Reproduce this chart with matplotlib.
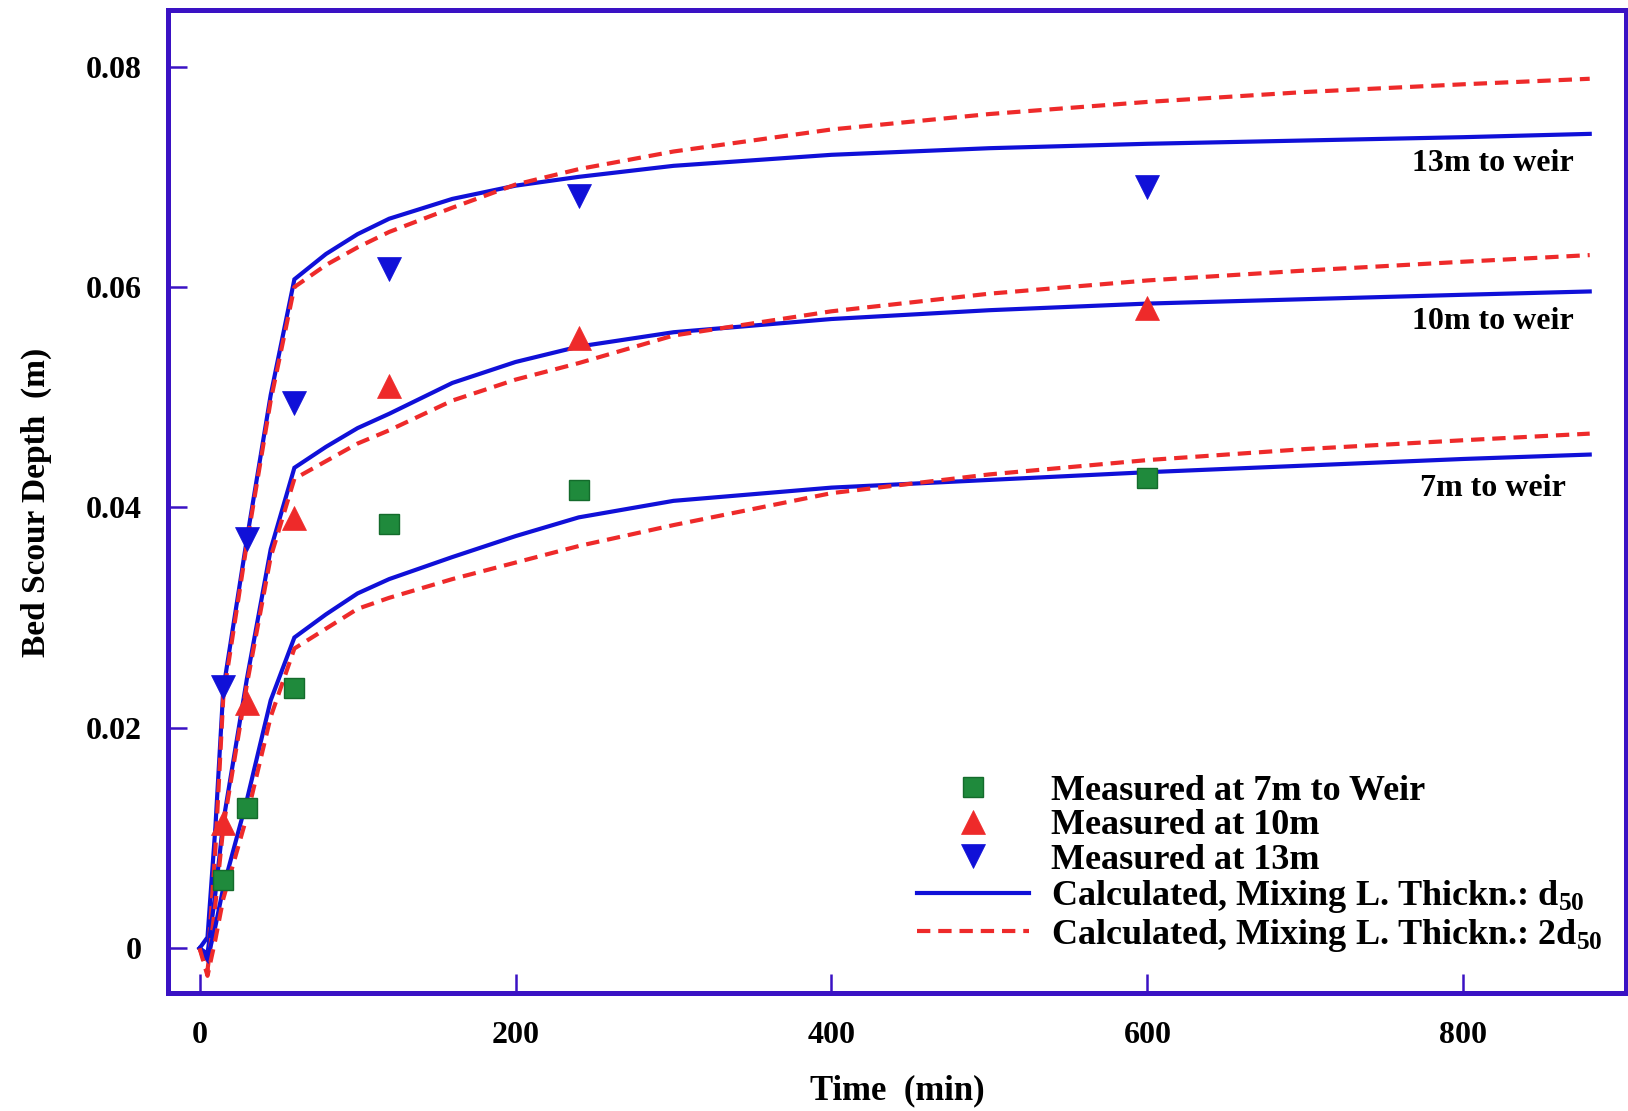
import matplotlib
matplotlib.use("Agg")
import matplotlib.pyplot as plt

plt.rcParams["font.family"] = ["Liberation Serif", "DejaVu Serif"]
plt.rcParams["font.weight"] = "bold"
plt.rcParams["axes.labelweight"] = "bold"
plt.rcParams["mathtext.fontset"] = "custom"
plt.rcParams["mathtext.rm"] = "Liberation Serif:bold"
plt.rcParams["mathtext.it"] = "Liberation Serif:bold"

# measured scour depth (m) at the three stations
t_meas = [15, 30, 60, 120, 240, 600]
meas_7m = [0.0062, 0.0127, 0.0236, 0.0385, 0.0416, 0.0427]
meas_10m = [0.0114, 0.0223, 0.0390, 0.0510, 0.0554, 0.0581]
meas_13m = [0.0237, 0.0371, 0.0495, 0.0616, 0.0683, 0.0691]

# calculated curves
t_calc = [0, 5, 10, 15, 30, 45, 60, 80, 100, 120, 160, 200, 240, 300,
          400, 500, 600, 700, 800, 880]
calc_d50_7m = [0, -0.001, 0.002, 0.0055, 0.0135, 0.0225, 0.0282, 0.0303,
               0.0322, 0.0335, 0.0355, 0.0374, 0.0391, 0.0406, 0.0418,
               0.0425, 0.0432, 0.0438, 0.0444, 0.0448]
calc_d50_10m = [0, -0.0005, 0.005, 0.0115, 0.0245, 0.0362, 0.0436, 0.0455,
                0.0472, 0.0485, 0.0513, 0.0532, 0.0546, 0.0559, 0.0571,
                0.0579, 0.0585, 0.0589, 0.0593, 0.0596]
calc_d50_13m = [0, 0.001, 0.011, 0.0235, 0.0372, 0.0502, 0.0607, 0.0630,
                0.0648, 0.0662, 0.0680, 0.0692, 0.0700, 0.0710, 0.0720,
                0.0726, 0.0730, 0.0733, 0.0736, 0.0739]
calc_2d50_7m = [0, -0.0025, 0.0008, 0.0045, 0.012, 0.021, 0.0272, 0.0290,
                0.0308, 0.0318, 0.0335, 0.0350, 0.0365, 0.0384, 0.0413,
                0.0430, 0.0443, 0.0453, 0.0461, 0.0467]
calc_2d50_10m = [0, -0.002, 0.004, 0.011, 0.0240, 0.0355, 0.0426, 0.0442,
                 0.0458, 0.0470, 0.0497, 0.0516, 0.0531, 0.0556, 0.0578,
                 0.0594, 0.0606, 0.0615, 0.0623, 0.0629]
calc_2d50_13m = [0, -0.0015, 0.009, 0.0228, 0.0368, 0.0497, 0.0600, 0.0620,
                 0.0636, 0.0650, 0.0672, 0.0693, 0.0707, 0.0723, 0.0743,
                 0.0757, 0.0768, 0.0777, 0.0784, 0.0789]

station_labels = ["13m to weir", "10m to weir", "7m to weir"]
station_label_y = [0.0712, 0.0569, 0.0417]

BLUE = "#1010d8"
RED = "#ee2a2a"
GREEN = "#1f8a3c"
FRAME = "#3a12c4"

fig = plt.figure(figsize=(16.28, 11.11), dpi=100)
ax = fig.add_axes([0.1032, 0.1058, 0.8956, 0.8848])

solid_kw = dict(color=BLUE, lw=3.0, solid_joinstyle="miter")
dash_kw = dict(color=RED, lw=3.0, dashes=(3.2, 1.9))

ax.plot(t_calc, calc_d50_13m, **solid_kw)
ax.plot(t_calc, calc_2d50_13m, **dash_kw)
ax.plot(t_calc, calc_d50_10m, **solid_kw)
ax.plot(t_calc, calc_2d50_10m, **dash_kw)
ax.plot(t_calc, calc_d50_7m, **solid_kw, label=r"Calculated, Mixing L. Thickn.: d$_{50}$")
ax.plot(t_calc, calc_2d50_7m, **dash_kw, label=r"Calculated, Mixing L. Thickn.: 2d$_{50}$")

ax.plot(t_meas, meas_7m, ls="none", marker="s", ms=15, mfc=GREEN,
        mec="#146b2c", mew=1.0, label="Measured at 7m to Weir")
ax.plot(t_meas, meas_10m, ls="none", marker="^", ms=17, mfc=RED,
        mec=RED, mew=0.5, label="Measured at 10m")
ax.plot(t_meas, meas_13m, ls="none", marker="v", ms=17, mfc=BLUE,
        mec=BLUE, mew=0.5, label="Measured at 13m")

for label, y in zip(station_labels, station_label_y):
    ax.text(819, y, label, ha="center", va="center", fontsize=23)

ax.set_xlim(-20, 903)
ax.set_ylim(-0.0041, 0.0851)
ax.set_xticks([0, 200, 400, 600, 800])
ax.set_yticks([0, 0.02, 0.04, 0.06, 0.08])
ax.set_yticklabels(["0", "0.02", "0.04", "0.06", "0.08"])

for side in ["left", "right", "top", "bottom"]:
    ax.spines[side].set_color(FRAME)
    ax.spines[side].set_linewidth(3.6)

ax.tick_params(direction="in", length=14, width=1.8, color=FRAME,
               labelsize=23, top=False, right=False)
ax.tick_params(axis="x", pad=20)
ax.tick_params(axis="y", pad=19)

ax.set_xlabel("Time  (min)", fontsize=25, fontweight="bold", labelpad=17)
ax.set_ylabel("Bed Scour Depth  (m)", fontsize=24, fontweight="bold",
              labelpad=24)

handles, labels = ax.get_legend_handles_labels()
order = [2, 3, 4, 0, 1]
ax.legend([handles[i] for i in order], [labels[i] for i in order],
          loc="upper left", bbox_to_anchor=(0.514, 0.223), frameon=False,
          prop={"size": 26, "weight": "bold"}, handlelength=3.1,
          handletextpad=0.6, labelspacing=0.04, borderpad=0.0,
          borderaxespad=0.0)

fig.savefig("out.png", dpi=100)
